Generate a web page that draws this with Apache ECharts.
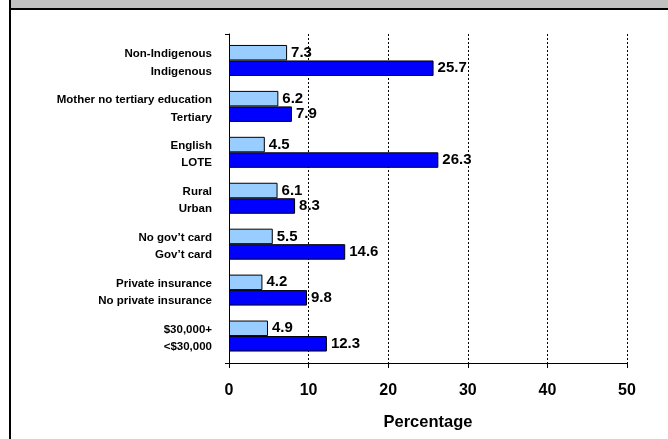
<!DOCTYPE html>
<html>
<head>
<meta charset="utf-8">
<script src="https://cdn.jsdelivr.net/npm/echarts@6/dist/echarts.min.js"></script>
<style>
html,body{margin:0;padding:0;background:#fff;}
#chart{width:668px;height:439px;}
</style>
</head>
<body>
<div id="chart"></div>
<script>
// Groups (top to bottom), each with two bars
const labelsFirst = ['Non-Indigenous', 'Mother no tertiary education', 'English', 'Rural', 'No gov\u2019t card', 'Private insurance', '$30,000+'];
const labelsSecond = ['Indigenous', 'Tertiary', 'LOTE', 'Urban', 'Gov\u2019t card', 'No private insurance', '<$30,000'];
const valuesFirst = [7.3, 6.2, 4.5, 6.1, 5.5, 4.2, 4.9];
const valuesSecond = [25.7, 7.9, 26.3, 8.3, 14.6, 9.8, 12.3];
const xTicks = [0, 10, 20, 30, 40, 50];
const xAxisName = 'Percentage';

const FONT = '"Liberation Sans", Arial, sans-serif';
const categories = labelsFirst.map((a, i) => i);

const labelStyle = {color: '#000', fontFamily: FONT, fontWeight: 'bold', fontSize: 11.5, align: 'right'};

const chart = echarts.init(document.getElementById('chart'), null, {renderer: 'canvas'});
chart.setOption({
  backgroundColor: '#ffffff',
  animation: false,
  graphic: [
    {type: 'rect', shape: {x: 11, y: 0, width: 660, height: 8}, style: {fill: '#C0C0C0'}, silent: true},
    {type: 'rect', shape: {x: 9, y: 8, width: 662, height: 2}, style: {fill: '#000'}, silent: true},
    {type: 'rect', shape: {x: 9, y: 0, width: 2, height: 439}, style: {fill: '#000'}, silent: true}
  ],
  grid: [
    {left: 229, right: 41, top: 34, bottom: 76, containLabel: false},
    {left: 229, right: 41, top: 37.5, bottom: 80, containLabel: false}
  ],
  xAxis: [
    {
      gridIndex: 0, type: 'value', min: xTicks[0], max: xTicks[xTicks.length - 1], interval: 10,
      axisLine: {show: true, lineStyle: {color: '#000', width: 1}},
      axisTick: {show: true, length: 5, lineStyle: {color: '#000'}},
      axisLabel: {margin: 20, color: '#000', fontFamily: FONT, fontWeight: 'bold', fontSize: 16},
      splitLine: {show: true, lineStyle: {color: '#000', type: [2, 2], width: 1}},
      name: xAxisName, nameLocation: 'middle', nameGap: 51,
      nameTextStyle: {color: '#000', fontFamily: FONT, fontWeight: 'bold', fontSize: 16.5}
    },
    {
      gridIndex: 1, type: 'value', min: xTicks[0], max: xTicks[xTicks.length - 1], show: false
    }
  ],
  yAxis: [
    {
      gridIndex: 0, type: 'category', data: [''],
      axisLine: {show: true, lineStyle: {color: '#000', width: 1}},
      axisTick: {show: true, length: 4, lineStyle: {color: '#000'}},
      axisLabel: {show: false}, splitLine: {show: false}
    },
    {
      gridIndex: 1, type: 'category', data: categories, inverse: true,
      axisLine: {show: false}, axisTick: {show: false}, splitLine: {show: false},
      axisLabel: {
        margin: 17, color: '#000', fontFamily: FONT, fontWeight: 'bold', fontSize: 11.5, align: 'right',
        formatter: (v, i) => '{a|' + labelsFirst[i] + '}\n{b|' + labelsSecond[i] + '}',
        rich: {
          a: Object.assign({lineHeight: 22}, labelStyle),
          b: Object.assign({lineHeight: 12.5}, labelStyle)
        }
      }
    }
  ],
  series: [
    {
      type: 'bar', xAxisIndex: 1, yAxisIndex: 1, data: valuesFirst,
      barWidth: 15.5, barGap: '0%',
      itemStyle: {color: '#99CCFF', borderColor: '#000', borderWidth: 1},
      label: {show: true, position: 'right', distance: 4, color: '#000', fontFamily: FONT, fontWeight: 'bold', fontSize: 15,
        formatter: p => p.value.toFixed(1)}
    },
    {
      type: 'bar', xAxisIndex: 1, yAxisIndex: 1, data: valuesSecond,
      barWidth: 15.5, barGap: '0%',
      itemStyle: {color: '#0000FF', borderColor: '#000', borderWidth: 1},
      label: {show: true, position: 'right', distance: 4, color: '#000', fontFamily: FONT, fontWeight: 'bold', fontSize: 15,
        formatter: p => p.value.toFixed(1)}
    }
  ]
});
</script>
</body>
</html>
